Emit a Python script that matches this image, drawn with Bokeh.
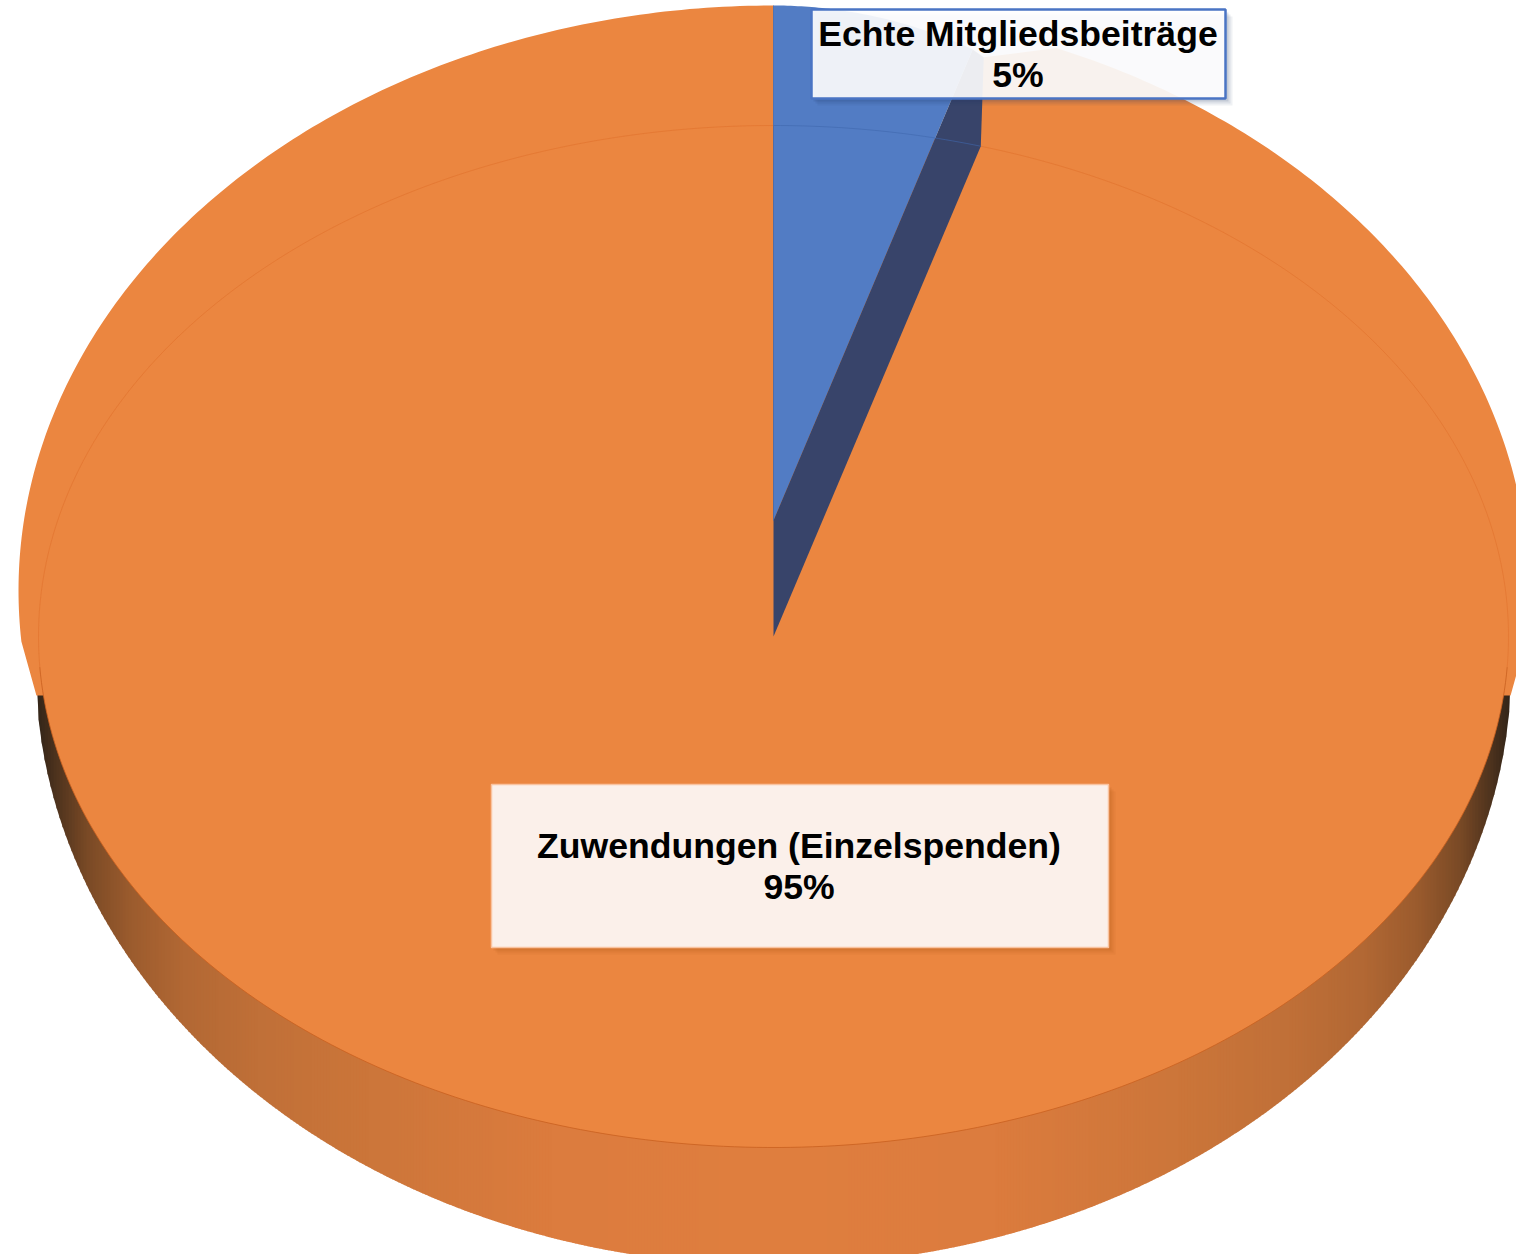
import math
import numpy as np
from bokeh.plotting import figure
from bokeh.embed import file_html
from bokeh.resources import INLINE
from bokeh.core.properties import value

categories = ["Echte Mitgliedsbeiträge", "Zuwendungen (Einzelspenden)"]
shares = [4.55, 95.45]
percent_labels = ["5%", "95%"]

W, H = 1516, 1254
p = figure(width=W, height=H, x_range=(0, W), y_range=(H, 0), output_backend="svg",
           toolbar_location=None, min_border=0, outline_line_color=None,
           background_fill_color="white", border_fill_color="white")
p.axis.visible = False
p.grid.visible = False

CX, CY = 773, 636           # pie centre on the top face
RA, RB = 735, 511           # top face ellipse
LA, LB, LY = 755, 585, 590  # silhouette of the top
WA, WB, WY = 738, 600, 665  # silhouette of the wall
ORANGE, BLUE, DARK = "#eb8640", "#527cc4", "#38446a"
theta = 2 * math.pi * shares[0] / sum(shares)
sx, sy = math.sin(theta), math.cos(theta)

# wall shading
stops_d = [0.0, 0.30, 0.55, 0.70, 0.80, 0.87, 0.93, 0.97, 1.0]
stops_r = [0xe0, 0xdc, 0xcc, 0xc0, 0xb2, 0x9c, 0x7a, 0x50, 0x30]
stops_g = [0x7f, 0x7c, 0x76, 0x70, 0x68, 0x5c, 0x4a, 0x34, 0x24]
stops_b = [0x3f, 0x3e, 0x3a, 0x38, 0x34, 0x2e, 0x26, 0x1e, 0x18]
edges = np.arange(CX - WA, CX + WA + 3, 3.0)
xs, ys, cs = [], [], []
for x0, x1 in zip(edges[:-1], edges[1:]):
    xm = np.clip(np.array([x0, x1 + 0.8]), CX - WA, CX + WA)
    d = abs((x0 + x1) / 2 - CX) / WA
    y = WY + WB * np.sqrt(np.maximum(0, 1 - ((xm - CX) / WA) ** 2))
    xs.append([xm[0], xm[1], xm[1], xm[0]])
    ys.append([WY, WY, y[1], y[0]])
    cs.append("#%02x%02x%02x" % (int(np.interp(d, stops_d, stops_r)),
                                 int(np.interp(d, stops_d, stops_g)),
                                 int(np.interp(d, stops_d, stops_b))))
p.patches(xs, ys, fill_color=cs, line_color=None)

# top of the orange slice: tapers into the wall's outline on either side
join_y = WY + 30
join_dx = WA * math.sqrt(1 - ((join_y - WY) / WB) ** 2)
t = np.radians(np.linspace(22, 95, 120))
t2 = np.radians(np.linspace(265, 360, 150))
ox = [CX, CX + RA * sx + 3, *(CX + LA * np.sin(t)), CX + join_dx,
      CX - join_dx, *(CX + LA * np.sin(t2)), CX]
oy = [CY, CY - RB * sy - 89, *(LY - LB * np.cos(t)), join_y,
      join_y, *(LY - LB * np.cos(t2)), CY]
p.patch(ox, oy, fill_color=ORANGE, line_color=None)

# top face ellipse
t = np.linspace(0, 2 * np.pi, 400)
rx, ry = CX + RA * np.sin(t), CY - RB * np.cos(t)
p.patch(rx, ry, fill_color=ORANGE, line_color=None)

# blue slice, lifted from the pie
BY, BA, BB = 520, 493, 515
s = 1 / math.hypot(RA * sx / BA, RB * sy / BB)
end = math.atan2(s * RA * sx / BA, s * RB * sy / BB)
t = np.linspace(0, end, 60)
bx, by = CX + BA * np.sin(t), BY - BB * np.cos(t)
p.patch([CX, *bx], [BY, *by], fill_color=BLUE, line_color=None)
p.patch([CX, CX, bx[-1], CX + RA * sx + 3, CX + RA * sx],
        [CY, BY, by[-1], CY - RB * sy - 89, CY - RB * sy],
        fill_color=DARK, line_color=None)
p.line([CX, CX], [BY, 5], line_color="#3f68ad", line_width=1, line_alpha=0.8)

# rim of the top face
t = np.linspace(theta, 0.5 * np.pi + 0.06, 120)
p.line(CX + RA * np.sin(t), CY - RB * np.cos(t), line_color="#d9641f", line_alpha=0.35, line_width=1)
t = np.linspace(-0.5 * np.pi - 0.06, 0, 120)
p.line(CX + RA * np.sin(t), CY - RB * np.cos(t), line_color="#d9641f", line_alpha=0.35, line_width=1)
t = np.linspace(0, theta, 30)
p.line(CX + RA * np.sin(t), CY - RB * np.cos(t), line_color="#3f68ad", line_alpha=0.6, line_width=1)
t = np.linspace(0.5 * np.pi + 0.06, 1.5 * np.pi - 0.06, 200)
p.line(CX + RA * np.sin(t), CY - RB * np.cos(t), line_color="#c9601f", line_alpha=0.8, line_width=1)

# labels
boxes = [(811, 1225, 9, 98, "#ffffff", 0.91, "#4a74c4", 2.5, "#1f3864"),
         (491, 1108, 784, 947, "#fbf0ea", 1.0, "#f9c3a0", 1.5, "#a04a10")]
for (l, r, t_, b, fill, alpha, line, lw, sh) in boxes:
    for off, a in [(7, 0.07), (5, 0.09), (3, 0.13)]:
        p.quad(left=l + off - 1, right=r + off, top=t_ + off, bottom=b + off,
               fill_color=sh, fill_alpha=a, line_color=None)
    p.quad(left=l, right=r, top=t_, bottom=b, fill_color=fill, fill_alpha=alpha,
           line_color=line, line_width=lw)

label_font = value("Liberation Sans")
positions = [(1017.5, 33.5, 74.5), (798.5, 845.5, 886.5)]
sizes = ["35.6px", "35.6px"]
for cat, pct, (x, y1, y2), size in zip(categories, percent_labels, positions, sizes):
    for txt, y in ((cat, y1), (pct, y2)):
        p.text([x], [y], text=[txt], text_font=label_font, text_font_size=size,
               text_font_style="bold", text_color="#000000",
               text_align="center", text_baseline="middle")

open("out.html", "w").write(file_html(p, INLINE))
